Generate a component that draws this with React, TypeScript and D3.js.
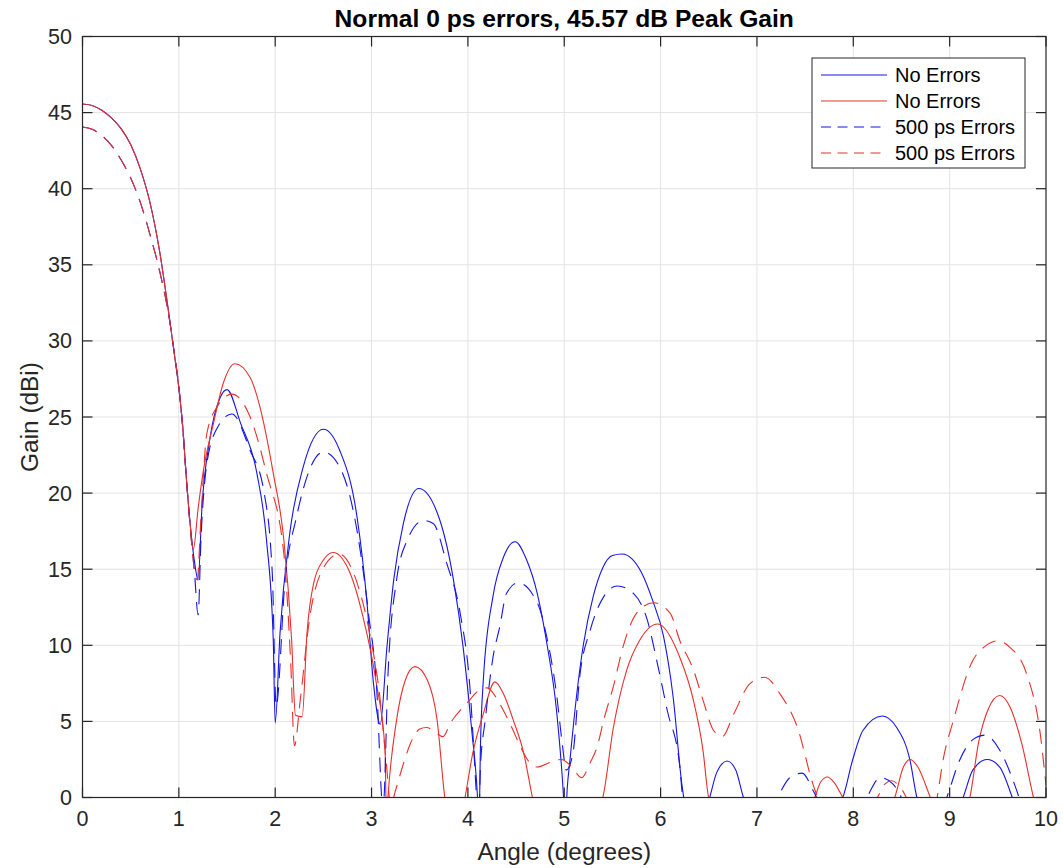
import React from "react";
import * as d3 from "d3";

const chartTitle = "Normal 0 ps errors, 45.57 dB Peak Gain";
const xLabel = "Angle (degrees)";
const yLabel = "Gain (dBi)";
const xTicks = [0, 1, 2, 3, 4, 5, 6, 7, 8, 9, 10];
const yTicks = [0, 5, 10, 15, 20, 25, 30, 35, 40, 45, 50];
const legendLabels = ["No Errors", "No Errors", "500 ps Errors", "500 ps Errors"];

// [angle (deg), gain (dBi)]
const blueNoErrors: [number, number][] = [
  [0, 45.57], [0.1, 45.47], [0.2, 45.15], [0.3, 44.65], [0.4, 43.95], [0.5, 42.9], [0.6, 41.3],
  [0.7, 39.1], [0.8, 35.9], [0.9, 31.6], [0.95, 29.3], [1.0, 26.9], [1.04, 24.4], [1.08, 20.8],
  [1.12, 17.8], [1.16, 15.6], [1.2, 14.3], [1.24, 19.1],
  [1.32, 23.5], [1.43, 26.3], [1.5, 26.8], [1.64, 24.6], [1.81, 21.3], [1.91, 16.9], [1.98, 10.3],
  [2.0, 4.9], [2.05, 10.8], [2.15, 17.3], [2.29, 21.7], [2.5, 24.2], [2.67, 22.8], [2.85, 18.4],
  [2.95, 13.0], [3.02, 7.5], [3.09, 4.8], [3.16, 9.9], [3.23, 14.3], [3.33, 18.0], [3.49, 20.3],
  [3.71, 18.2], [3.85, 14.3], [3.95, 9.9], [4.04, 4.4], [4.1, 0], [4.115, -2], [4.13, 3.3],
  [4.16, 7.7], [4.26, 13.2], [4.37, 15.8], [4.49, 16.8], [4.61, 15.6], [4.72, 13.4], [4.82, 10.1],
  [4.92, 5.7], [4.99, 0.3], [5.01, -2], [5.03, 0.5], [5.06, 2.5], [5.13, 6.8], [5.2, 10.1],
  [5.3, 13.2], [5.4, 15.1], [5.5, 15.9], [5.6, 16.0], [5.7, 15.7], [5.8, 14.8], [5.92, 12.9],
  [6.03, 10.6], [6.13, 6.6], [6.22, 0.9], [6.24, 0], [6.35, -3], [6.51, 0], [6.58, 1.6],
  [6.69, 2.4], [6.78, 1.8], [6.86, 0],
  [7.3, -4], [7.89, 0], [7.99, 2.4], [8.1, 4.4], [8.3, 5.35], [8.45, 4.6], [8.59, 2.4], [8.66, 0],
  [8.9, -3], [9.14, 0], [9.24, 1.8], [9.39, 2.5], [9.52, 2.0], [9.65, 0], [9.8, -3], [10, -3],
];

const redNoErrors: [number, number][] = [
  [0, 45.57], [0.1, 45.47], [0.2, 45.15], [0.3, 44.65], [0.4, 43.95], [0.5, 42.9], [0.6, 41.3],
  [0.7, 39.1], [0.8, 35.9], [0.9, 31.6], [0.95, 29.3], [1.0, 26.9], [1.04, 24.4], [1.08, 20.8],
  [1.12, 17.8], [1.15, 16.3], [1.2, 19.0], [1.25, 21.3],
  [1.36, 24.6], [1.46, 27.2], [1.58, 28.5], [1.74, 27.6], [1.84, 25.7], [1.98, 21.3], [2.09, 16.9],
  [2.17, 10.4], [2.21, 5.4], [2.28, 5.3], [2.33, 10.8], [2.4, 14.1], [2.5, 15.6], [2.6, 16.1],
  [2.78, 14.7], [2.91, 11.9], [3.05, 7.5], [3.14, 3.1], [3.155, -1.5], [3.17, 0], [3.26, 5.1],
  [3.35, 7.7], [3.45, 8.6], [3.58, 7.7], [3.68, 5.1], [3.76, 0], [3.86, -3], [3.97, 0], [4.05, 2.9],
  [4.16, 5.5], [4.28, 7.6], [4.37, 6.8], [4.47, 5.1], [4.58, 2.9], [4.67, 0], [5.0, -5], [5.4, 0],
  [5.51, 4.6], [5.65, 8.4], [5.78, 10.3], [5.97, 11.4], [6.2, 9.2], [6.34, 6.4], [6.44, 3.1],
  [6.5, 0], [7.0, -5], [7.6, 0], [7.66, 1.0], [7.73, 1.35], [7.8, 1.0], [7.89, 0], [8.1, -3],
  [8.43, 0], [8.52, 2.0], [8.59, 2.5], [8.67, 2.0], [8.8, 0], [9.0, -3], [9.21, 0], [9.3, 3.6],
  [9.4, 5.8], [9.52, 6.7], [9.63, 5.9], [9.75, 3.5], [9.87, 0], [10, -3],
];

const blue500ps: [number, number][] = [
  [0, 44.05], [0.1, 43.9], [0.2, 43.5], [0.3, 42.85], [0.4, 41.9], [0.5, 40.7], [0.6, 39.1],
  [0.7, 37.0], [0.8, 34.6], [0.9, 31.5], [0.96, 28.9], [1.0, 27.0], [1.04, 24.3], [1.08, 20.8],
  [1.12, 17.6], [1.16, 15.0], [1.2, 12.0],
  [1.23, 17.0], [1.29, 21.9], [1.4, 24.3], [1.55, 25.2], [1.74, 22.8], [1.88, 20.2], [1.97, 14.7],
  [2.01, 6.0], [2.1, 14.1], [2.22, 18.4], [2.5, 22.7], [2.67, 21.7], [2.85, 17.5], [2.97, 12.0],
  [3.06, 6.4], [3.1, 0.5], [3.115, -1], [3.13, 0], [3.17, 8.0], [3.26, 14.3], [3.37, 16.9],
  [3.54, 18.2], [3.64, 18.0], [3.78, 15.4], [3.92, 12.1], [4.02, 7.3], [4.09, 0], [4.11, -2],
  [4.13, 2.0], [4.18, 5.1], [4.26, 9.2], [4.33, 11.2], [4.4, 13.4], [4.52, 14.1], [4.72, 12.8],
  [4.82, 10.5], [4.92, 6.8], [4.98, 3.5], [5.02, 1.8], [5.09, 2.9], [5.16, 7.9], [5.27, 11.0],
  [5.41, 13.2], [5.55, 13.9], [5.72, 13.4], [5.86, 11.7], [5.96, 9.0], [6.07, 5.7], [6.2, 2.0],
  [6.23, 0], [6.5, -4], [7.21, 0], [7.34, 1.3], [7.47, 1.6], [7.58, 0.5], [7.62, 0], [7.9, -3],
  [8.14, 0], [8.28, 1.3], [8.41, 0.9], [8.5, 0], [8.75, -3], [8.97, 0], [9.1, 2.4], [9.24, 3.8],
  [9.37, 4.1], [9.52, 3.1], [9.66, 1.1], [9.72, 0], [9.85, -3], [10, -3],
];

const red500ps: [number, number][] = [
  [0, 44.05], [0.1, 43.9], [0.2, 43.5], [0.3, 42.85], [0.4, 41.9], [0.5, 40.7], [0.6, 39.1],
  [0.7, 37.0], [0.8, 34.6], [0.9, 31.5], [0.96, 28.9], [1.0, 27.0], [1.04, 24.3], [1.08, 20.8],
  [1.12, 17.6], [1.16, 15.0], [1.19, 14.3],
  [1.23, 18.5], [1.29, 23.9], [1.4, 25.7], [1.55, 26.5], [1.74, 25.0], [1.91, 21.3], [2.09, 16.0],
  [2.16, 9.0], [2.2, 3.4], [2.26, 6.4], [2.36, 11.9], [2.47, 14.7], [2.66, 16.0], [2.85, 14.1],
  [2.98, 10.8], [3.09, 6.4], [3.15, 2.5], [3.2, -0.5], [3.25, 0.5], [3.33, 2.2], [3.4, 3.5],
  [3.5, 4.5], [3.57, 4.6], [3.66, 4.3], [3.74, 4.0], [3.82, 4.9], [3.99, 6.2], [4.13, 7.1],
  [4.2, 7.2], [4.3, 6.5], [4.37, 5.7], [4.47, 4.4], [4.54, 3.4], [4.64, 2.3], [4.72, 2.0],
  [4.85, 2.3], [4.97, 2.5], [5.08, 2.0], [5.18, 1.3], [5.27, 2.3], [5.34, 3.3], [5.41, 5.1],
  [5.51, 7.3], [5.61, 9.9], [5.75, 12.1], [5.93, 12.8], [6.1, 12.1], [6.2, 10.3], [6.34, 8.4],
  [6.44, 6.4], [6.55, 4.4], [6.64, 4.0], [6.76, 5.5], [6.93, 7.5], [7.08, 7.9], [7.24, 6.8],
  [7.42, 4.6], [7.58, 0.9], [7.63, 0], [7.9, -3], [8.25, 0], [8.33, 0.9], [8.4, 1.1], [8.47, 0.8],
  [8.55, 0], [8.7, -3], [8.87, 0], [8.93, 2.4], [9.04, 5.1], [9.24, 9.0], [9.36, 9.9], [9.5, 10.3],
  [9.62, 9.9], [9.8, 8.1], [9.94, 4.2], [10, 0.8],
];

const seriesList = [
  { data: blueNoErrors, color: "#1414e6", dashed: false },
  { data: redNoErrors, color: "#e8302c", dashed: false },
  { data: blue500ps, color: "#1414e6", dashed: true },
  { data: red500ps, color: "#e8302c", dashed: true },
];

export default function App() {
  const W = 1063;
  const H = 868;
  const left = 82.5, right = 1046, top = 36.5, bottom = 797.5;
  const x = d3.scaleLinear().domain([0, 10]).range([left, right]);
  const y = d3.scaleLinear().domain([0, 50]).range([bottom, top]);
  const line = d3
    .line<[number, number]>()
    .x((d) => x(d[0]))
    .y((d) => y(d[1]))
    .curve(d3.curveMonotoneX);
  const font = "'Liberation Sans', Arial, Helvetica, sans-serif";
  const axisColor = "#262626";
  const gridColor = "#e3e3e3";
  const tickLen = 10;

  const legX = 812, legY = 58, legW = 213, legH = 110;
  const rowY = [75, 101, 127, 153];

  return (
    <svg
      width={W}
      height={H}
      style={{ position: "absolute", left: 0, top: 0, background: "#fff" }}
      fontFamily={font}
    >
      <defs>
        <clipPath id="plotClip">
          <rect x={left} y={top} width={right - left} height={bottom - top} />
        </clipPath>
      </defs>
      <rect x={0} y={0} width={W} height={H} fill="#fff" />
      {xTicks.slice(1, -1).map((t) => (
        <line key={"gx" + t} x1={x(t)} x2={x(t)} y1={top} y2={bottom} stroke={gridColor} strokeWidth={1} />
      ))}
      {yTicks.slice(1, -1).map((t) => (
        <line key={"gy" + t} x1={left} x2={right} y1={y(t)} y2={y(t)} stroke={gridColor} strokeWidth={1} />
      ))}
      <g clipPath="url(#plotClip)">
        {seriesList.map((s, i) => (
          <path
            key={i}
            d={line(s.data) || ""}
            fill="none"
            stroke={s.color}
            strokeWidth={1.1}
            strokeDasharray={s.dashed ? "15,9" : undefined}
            strokeLinejoin="round"
          />
        ))}
      </g>
      <rect x={left} y={top} width={right - left} height={bottom - top} fill="none" stroke={axisColor} strokeWidth={1.2} />
      {xTicks.map((t) => (
        <g key={"tx" + t}>
          <line x1={x(t)} x2={x(t)} y1={bottom} y2={bottom - tickLen} stroke={axisColor} strokeWidth={1.2} />
          <line x1={x(t)} x2={x(t)} y1={top} y2={top + tickLen} stroke={axisColor} strokeWidth={1.2} />
          <text x={x(t)} y={826} textAnchor="middle" fontSize={21.5} fill={axisColor}>
            {t}
          </text>
        </g>
      ))}
      {yTicks.map((t) => (
        <g key={"ty" + t}>
          <line x1={left} x2={left + tickLen} y1={y(t)} y2={y(t)} stroke={axisColor} strokeWidth={1.2} />
          <line x1={right} x2={right - tickLen} y1={y(t)} y2={y(t)} stroke={axisColor} strokeWidth={1.2} />
          <text x={72} y={y(t) + 7.5} textAnchor="end" fontSize={21.5} fill={axisColor}>
            {t}
          </text>
        </g>
      ))}
      <text x={(left + right) / 2} y={27} textAnchor="middle" fontSize={24.6} fontWeight="bold" fill="#000">
        {chartTitle}
      </text>
      <text x={(left + right) / 2} y={860} textAnchor="middle" fontSize={24.4} fill={axisColor}>
        {xLabel}
      </text>
      <text
        transform={`translate(38,${(top + bottom) / 2}) rotate(-90)`}
        textAnchor="middle"
        fontSize={24.4}
        fill={axisColor}
      >
        {yLabel}
      </text>
      <rect x={legX} y={legY} width={legW} height={legH} fill="#fff" stroke={axisColor} strokeWidth={1} />
      {seriesList.map((s, i) => (
        <g key={"lg" + i}>
          <line
            x1={821}
            x2={887}
            y1={rowY[i]}
            y2={rowY[i]}
            stroke={s.color}
            strokeWidth={1.1}
            strokeDasharray={s.dashed ? "10,6.5" : undefined}
          />
          <text x={895} y={rowY[i] + 7} fontSize={20} fill="#000">
            {legendLabels[i]}
          </text>
        </g>
      ))}
    </svg>
  );
}
